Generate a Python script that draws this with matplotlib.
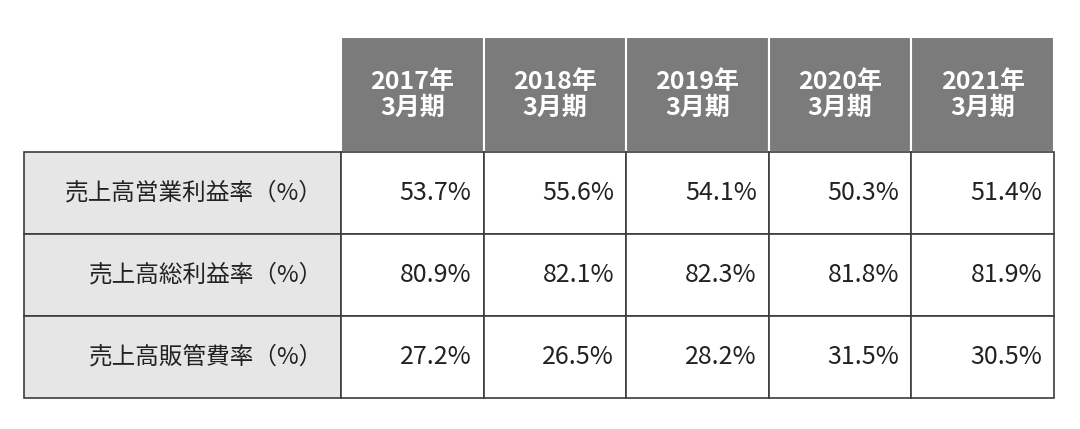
import matplotlib
matplotlib.use("Agg")
import matplotlib.pyplot as plt
from matplotlib.patches import Rectangle

# ── Data ───────────────────────────────────────────
years = ["2017年\n3月期", "2018年\n3月期", "2019年\n3月期", "2020年\n3月期", "2021年\n3月期"]
row_labels = ["売上高営業利益率（%）", "売上高総利益率（%）", "売上高販管費率（%）"]
operating_margin = [53.7, 55.6, 54.1, 50.3, 51.4]
gross_margin = [80.9, 82.1, 82.3, 81.8, 81.9]
sga_ratio = [27.2, 26.5, 28.2, 31.5, 30.5]
values = [operating_margin, gross_margin, sga_ratio]

# ── Layout (pixels) ────────────────────────────────
FONT = "Noto Sans CJK JP"
x_label0, x_data0, x_end = 24, 341, 1054
y_head0, y_body0, y_end = 37, 152, 398
col_w = (x_end - x_data0) / len(years)
row_h = (y_end - y_body0) / len(row_labels)
edge = "#3c3c3c"

fig = plt.figure(figsize=(10.8, 4.29), dpi=100)
ax = fig.add_axes([0, 0, 1, 1])
ax.set_xlim(0, 1080)
ax.set_ylim(429, 0)
ax.axis("off")

# header
for j, yr in enumerate(years):
    x0 = x_data0 + j * col_w
    ax.add_patch(Rectangle((x0, y_head0), col_w, y_body0 - y_head0,
                           facecolor="#7b7b7b", edgecolor="white", linewidth=1.5))
    ax.text(x0 + col_w / 2, (y_head0 + y_body0) / 2, yr, color="white",
            fontsize=18, fontweight="bold", family=FONT,
            ha="center", va="center", linespacing=1.1)

# body
for i, lab in enumerate(row_labels):
    y0 = y_body0 + i * row_h
    ax.add_patch(Rectangle((x_label0, y0), x_data0 - x_label0, row_h,
                           facecolor="#e6e6e6", edgecolor=edge, linewidth=1.2))
    ax.text(x_data0 - 18, y0 + row_h / 2, lab, fontsize=17, family=FONT,
            color="#222222", ha="right", va="center")
    for j, v in enumerate(values[i]):
        x0 = x_data0 + j * col_w
        ax.add_patch(Rectangle((x0, y0), col_w, row_h,
                               facecolor="white", edgecolor=edge, linewidth=1.2))
        ax.text(x0 + col_w - 12, y0 + row_h / 2, f"{v:.1f}%", fontsize=18,
                family=FONT, color="#222222", ha="right", va="center")

fig.savefig("out.png", dpi=100)
